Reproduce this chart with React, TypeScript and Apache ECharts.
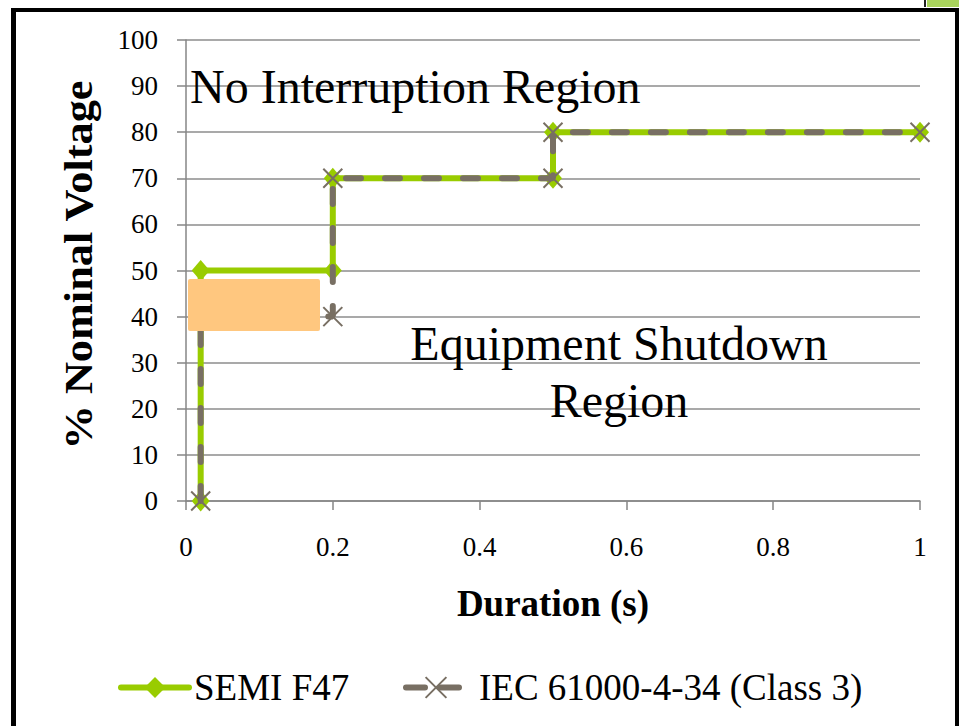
import React, { useEffect, useRef } from "react";
import * as echarts from "echarts";

const semiX = [0.02, 0.02, 0.2, 0.2, 0.5, 0.5, 1];
const semiY = [0, 50, 50, 70, 70, 80, 80];
const iecX = [0.02, 0.02, 0.2, 0.2, 0.5, 0.5, 1];
const iecY = [0, 40, 40, 70, 70, 80, 80];
const seriesNames = ["SEMI F47", "IEC 61000-4-34 (Class 3)"];
const regionLabels = ["No Interruption Region", "Equipment Shutdown", "Region"];
const axisTitles = ["Duration (s)", "% Nominal Voltage"];

const FONT = "'Liberation Serif', 'Times New Roman', serif";
const GREEN = "#99CC00";
const GRAY = "#786F63";
const XMARK = "path://M0,0L10,10M10,0L0,10";

export default function App() {
  const ref = useRef<HTMLDivElement>(null);
  useEffect(() => {
    document.body.style.margin = "0";
    const chart = echarts.init(ref.current!, null, { renderer: "svg" });
    const semi = semiX.map((x, i) => [x, semiY[i]]);
    const iec = iecX.map((x, i) => [x, iecY[i]]);
    const legendText = { color: "#000", fontSize: 37, fontFamily: FONT };
    chart.setOption({
      animation: false,
      backgroundColor: "#ffffff",
      grid: { left: 186, right: 39, top: 40, bottom: 225, containLabel: false },
      xAxis: {
        type: "value",
        min: 0,
        max: 1,
        interval: 0.2,
        axisLine: { show: true, onZero: false, lineStyle: { color: "#868686", width: 1.5 } },
        axisTick: { show: true, length: 9, lineStyle: { color: "#868686", width: 1.5 } },
        splitLine: { show: false },
        axisLabel: { color: "#000", fontSize: 27, fontFamily: FONT, margin: 32 },
      },
      yAxis: {
        type: "value",
        min: 0,
        max: 100,
        interval: 10,
        axisLine: { show: true, lineStyle: { color: "#868686", width: 1.5 } },
        axisTick: { show: true, length: 9, lineStyle: { color: "#868686", width: 1.5 } },
        splitLine: { show: true, lineStyle: { color: "#8C8C8C", width: 1.5 } },
        axisLabel: { color: "#000", fontSize: 27, fontFamily: FONT, margin: 28 },
      },
      legend: [
        {
          left: 113,
          top: 664,
          itemWidth: 68,
          itemHeight: 26,
          itemGap: 6,
          textStyle: legendText,
          data: [
            {
              name: seriesNames[0],
              lineStyle: { width: 6, cap: "round", color: GREEN },
            },
          ],
        },
        {
          left: 398,
          top: 664,
          itemWidth: 60,
          itemHeight: 26,
          textStyle: { ...legendText, padding: [0, 0, 0, 8] },
          data: [
            {
              name: seriesNames[1],
              lineStyle: { width: 6, cap: "round", color: GRAY, type: [19, 15] },
            },
          ],
        },
      ],
      series: [
        {
          name: seriesNames[0],
          type: "line",
          data: semi,
          symbol: "diamond",
          symbolSize: [18, 21],
          lineStyle: { color: GREEN, width: 6 },
          itemStyle: { color: GREEN },
          z: 2,
        },
        {
          name: seriesNames[1],
          type: "line",
          data: iec,
          symbol: XMARK,
          symbolSize: 19,
          lineStyle: { color: GRAY, width: 6, type: [15, 24], cap: "round" },
          itemStyle: { color: "none", borderColor: GRAY, borderWidth: 2 },
          z: 3,
        },
      ],
      graphic: [
        { type: "rect", shape: { x: 11, y: 8, width: 5, height: 718 }, style: { fill: "#000" }, z: 100 },
        { type: "rect", shape: { x: 11, y: 8, width: 948, height: 4 }, style: { fill: "#000" }, z: 100 },
        { type: "rect", shape: { x: 955, y: 8, width: 4, height: 718 }, style: { fill: "#000" }, z: 100 },
        { type: "rect", shape: { x: 927, y: 0, width: 32, height: 7 }, style: { fill: "#A9D45C" }, z: 100 },
        { type: "rect", shape: { x: 924, y: 0, width: 2, height: 7 }, style: { fill: "#222" }, z: 100 },
        {
          type: "rect",
          shape: { x: 188, y: 279, width: 132, height: 52, r: 2 },
          style: { fill: "#FFC77F" },
          z: 100,
        },
        {
          type: "text",
          style: { text: regionLabels[0], x: 190, y: 86, font: `48px ${FONT}`, fill: "#000", verticalAlign: "middle", align: "left" },
          z: 100,
        },
        {
          type: "text",
          style: { text: regionLabels[1], x: 619, y: 343, font: `48px ${FONT}`, fill: "#000", verticalAlign: "middle", align: "center" },
          z: 100,
        },
        {
          type: "text",
          style: { text: regionLabels[2], x: 619, y: 400, font: `48px ${FONT}`, fill: "#000", verticalAlign: "middle", align: "center" },
          z: 100,
        },
        {
          type: "text",
          style: { text: axisTitles[0], x: 553, y: 603, font: `bold 37px ${FONT}`, fill: "#000", verticalAlign: "middle", align: "center" },
          z: 100,
        },
        {
          type: "text",
          x: 78,
          y: 265,
          rotation: Math.PI / 2,
          scaleX: 1.08,
          style: { text: axisTitles[1], x: 0, y: 0, font: `bold 41px ${FONT}`, fill: "#000", verticalAlign: "middle", align: "center" },
          z: 100,
        },
      ],
    });
    return () => chart.dispose();
  }, []);
  return <div ref={ref} style={{ width: 959, height: 726 }} />;
}
